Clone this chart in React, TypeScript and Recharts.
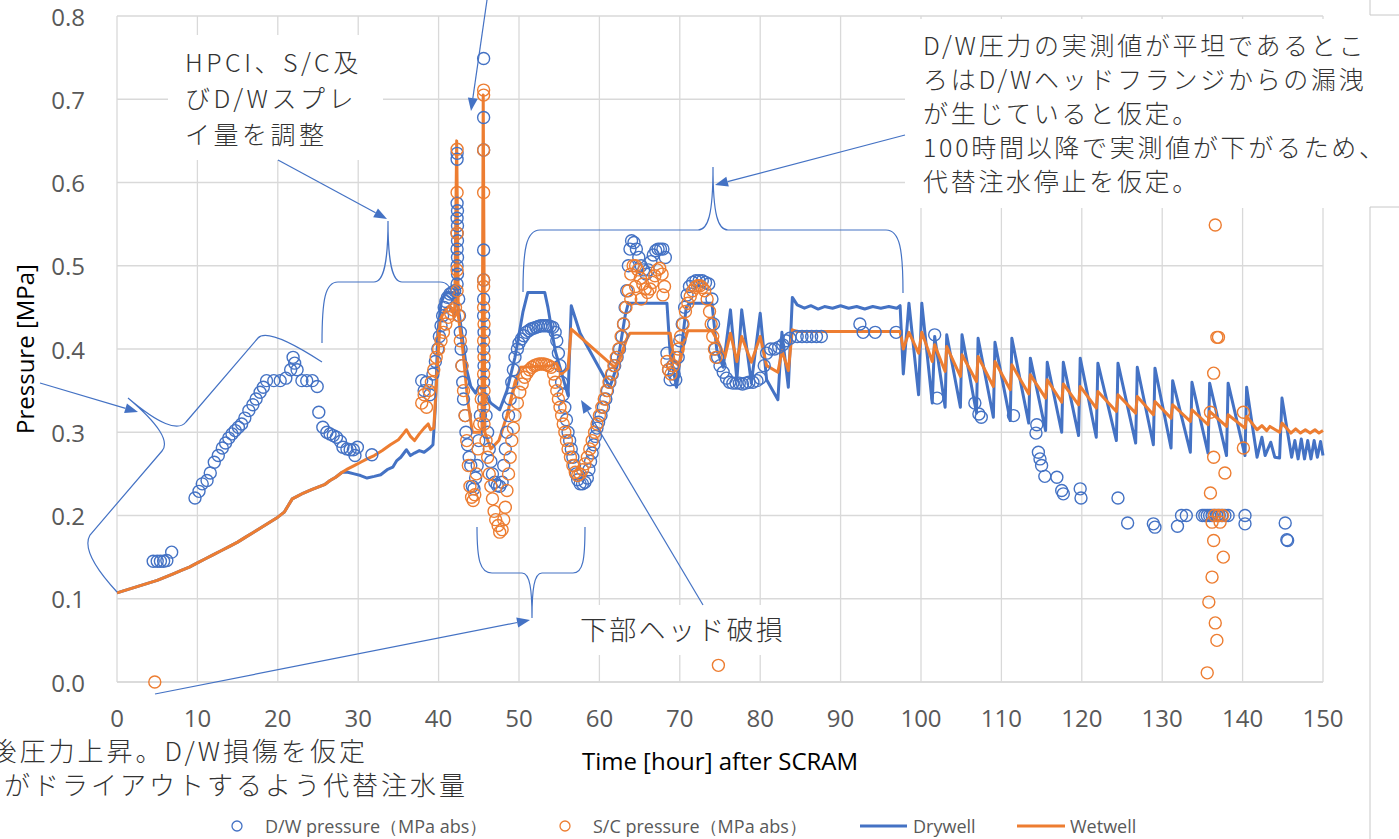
import { ComposedChart, Line, Scatter, XAxis, YAxis, CartesianGrid } from "recharts";

const BLUE = "#4472C4";
const ORANGE = "#ED7D31";
const GRID = "#d9d9d9";
const LABEL = "#595959";
const JP_FONT = '"Noto Sans CJK JP", "Noto Sans", sans-serif';
const LATIN_FONT = '"Open Sans", "Noto Sans", sans-serif';

const hourTicks = [0, 10, 20, 30, 40, 50, 60, 70, 80, 90, 100, 110, 120, 130, 140, 150];
const pressureTicks = [0, 0.1, 0.2, 0.3, 0.4, 0.5, 0.6, 0.7, 0.8];

type Pt = [number, number];

// measured D/W pressure (MPa abs)
const dwMeasured: Pt[] = [
  [4.5, 0.145], [5.0, 0.145], [5.4, 0.145], [5.8, 0.145], [6.2, 0.146], [6.8, 0.156],
  [9.7, 0.221], [10.2, 0.229], [10.6, 0.238], [11.2, 0.242], [11.6, 0.251], [12.1, 0.264],
  [12.6, 0.272], [13.1, 0.281], [13.5, 0.287], [13.9, 0.293], [14.3, 0.298], [14.7, 0.302],
  [15.1, 0.306], [15.5, 0.31], [15.9, 0.317], [16.4, 0.326], [16.9, 0.333], [17.3, 0.34],
  [17.8, 0.348], [18.2, 0.354], [18.6, 0.362], [19.5, 0.362], [20.3, 0.362], [21.0, 0.365],
  [21.6, 0.375], [21.9, 0.39], [22.1, 0.383], [22.4, 0.375], [23.0, 0.362], [23.6, 0.362],
  [24.3, 0.362], [24.9, 0.355], [25.1, 0.324], [25.6, 0.306], [26.1, 0.3], [26.5, 0.298],
  [26.9, 0.296], [27.3, 0.294], [27.8, 0.289], [28.1, 0.282], [28.6, 0.28], [29.0, 0.279],
  [29.4, 0.279], [29.6, 0.272], [29.9, 0.282], [31.7, 0.273],
  [37.9, 0.362], [38.2, 0.35], [38.5, 0.36], [38.9, 0.345], [39.3, 0.37], [39.6, 0.385],
  [39.9, 0.4], [40.1, 0.415], [40.3, 0.428], [40.5, 0.44], [40.7, 0.45], [40.9, 0.457],
  [41.1, 0.462], [41.4, 0.466], [41.7, 0.468], [42.0, 0.47],
  [42.3, 0.635], [42.3, 0.628], [42.3, 0.575], [42.35, 0.566], [42.3, 0.557], [42.35, 0.548],
  [42.3, 0.539], [42.35, 0.53], [42.3, 0.52], [42.35, 0.51], [42.3, 0.5], [42.35, 0.49], [42.3, 0.478],
  [42.5, 0.46], [42.6, 0.44], [42.7, 0.42], [42.8, 0.4], [42.9, 0.38], [43.0, 0.36], [43.1, 0.34],
  [43.3, 0.32], [43.4, 0.3], [43.6, 0.285], [43.8, 0.27], [44.0, 0.26], [44.2, 0.235],
  [44.4, 0.232], [44.6, 0.245], [44.8, 0.26], [45.0, 0.29], [45.2, 0.32],
  [45.6, 0.749], [45.6, 0.678], [45.6, 0.639], [45.6, 0.519], [45.6, 0.483], [45.6, 0.46],
  [45.6, 0.44], [45.65, 0.42], [45.6, 0.4], [45.65, 0.38], [45.6, 0.36], [45.65, 0.34],
  [45.9, 0.32], [46.1, 0.3], [46.3, 0.28], [46.5, 0.265], [46.7, 0.25], [47.0, 0.24],
  [47.3, 0.236], [47.6, 0.235], [47.9, 0.24], [48.1, 0.26], [48.3, 0.28], [48.5, 0.3],
  [48.7, 0.32], [48.9, 0.34], [49.1, 0.36], [49.3, 0.375], [49.5, 0.39], [49.8, 0.4],
  [50.0, 0.407], [50.3, 0.412], [50.6, 0.416], [50.9, 0.42], [51.2, 0.422], [51.5, 0.424],
  [51.8, 0.425], [52.1, 0.426], [52.4, 0.427], [52.7, 0.428], [53.0, 0.428], [53.3, 0.428],
  [53.6, 0.428], [53.9, 0.427], [54.2, 0.426], [54.5, 0.42], [54.7, 0.41], [54.9, 0.395],
  [55.1, 0.38], [55.3, 0.36], [55.5, 0.345], [55.7, 0.33], [55.9, 0.315], [56.1, 0.3],
  [56.3, 0.29], [56.5, 0.28], [56.7, 0.27], [56.9, 0.26], [57.1, 0.25], [57.3, 0.243],
  [57.6, 0.238], [57.9, 0.238], [58.2, 0.24], [58.5, 0.245], [58.7, 0.255], [58.9, 0.265],
  [59.1, 0.275], [59.3, 0.285], [59.5, 0.295], [59.7, 0.305], [59.9, 0.312], [60.2, 0.32],
  [60.5, 0.33], [60.8, 0.34], [61.0, 0.35], [61.3, 0.36], [61.6, 0.37], [61.9, 0.38],
  [62.2, 0.39], [62.5, 0.4], [62.8, 0.415], [63.0, 0.43], [63.2, 0.45], [63.4, 0.47],
  [63.6, 0.5], [63.8, 0.52], [64.0, 0.53], [64.3, 0.528], [64.6, 0.52], [64.9, 0.51],
  [65.2, 0.5], [65.5, 0.495], [65.8, 0.49], [66.1, 0.495], [66.4, 0.505], [66.7, 0.513],
  [67.0, 0.518], [67.3, 0.52], [67.6, 0.52], [67.9, 0.52], [68.2, 0.51],
  [68.4, 0.395], [68.6, 0.375], [68.8, 0.363], [69.1, 0.38], [69.3, 0.37], [69.5, 0.363],
  [69.8, 0.39], [70.0, 0.41], [70.3, 0.43], [70.6, 0.45], [70.9, 0.465], [71.2, 0.475],
  [71.6, 0.48], [72.0, 0.482], [72.4, 0.482], [72.8, 0.482], [73.2, 0.48], [73.6, 0.478],
  [74.0, 0.46], [74.2, 0.43], [74.4, 0.4], [74.7, 0.39], [75.0, 0.38], [75.4, 0.372],
  [75.8, 0.365], [76.2, 0.36], [76.6, 0.359], [77.0, 0.359], [77.4, 0.359], [77.8, 0.358],
  [78.2, 0.359], [78.6, 0.36], [79.1, 0.36], [79.6, 0.362], [80.0, 0.365], [80.5, 0.38],
  [80.8, 0.395], [81.3, 0.4], [81.8, 0.4], [82.3, 0.402], [82.8, 0.405], [83.2, 0.41],
  [83.7, 0.413], [84.6, 0.415], [85.2, 0.415], [85.8, 0.415], [86.4, 0.415], [87.0, 0.415],
  [87.6, 0.415], [92.4, 0.43], [92.8, 0.42], [94.3, 0.42], [96.9, 0.42],
  [101.7, 0.417], [102.0, 0.341], [106.7, 0.335], [107.2, 0.322], [107.5, 0.318], [111.5, 0.32],
  [114.4, 0.309], [114.3, 0.299], [114.6, 0.276], [114.8, 0.268], [115.0, 0.26], [115.4, 0.247],
  [116.9, 0.246], [117.5, 0.23], [117.7, 0.226], [119.8, 0.232], [119.9, 0.221], [124.5, 0.221],
  [125.7, 0.191], [128.9, 0.19], [129.1, 0.186], [131.9, 0.187], [132.4, 0.2], [133.0, 0.2],
  [135.0, 0.2], [135.3, 0.2], [135.6, 0.2], [135.9, 0.2], [136.2, 0.2], [136.5, 0.2],
  [136.8, 0.2], [137.1, 0.2], [137.4, 0.2], [137.8, 0.2], [138.2, 0.2], [140.3, 0.2],
  [140.3, 0.19], [145.3, 0.191], [145.5, 0.171], [145.6, 0.17],
];

// measured S/C pressure (MPa abs)
const scMeasured: Pt[] = [
  [4.7, 0.0],
  [37.9, 0.335], [38.2, 0.345], [38.5, 0.33], [38.8, 0.35], [39.1, 0.36], [39.4, 0.375],
  [39.7, 0.39], [40.0, 0.4], [40.3, 0.41], [40.6, 0.42], [40.9, 0.43], [41.2, 0.438],
  [41.5, 0.443], [41.8, 0.447], [42.1, 0.45],
  [42.3, 0.64], [42.3, 0.588], [42.3, 0.539], [42.3, 0.495], [42.3, 0.47],
  [42.5, 0.44], [42.7, 0.41], [42.9, 0.38], [43.1, 0.35], [43.3, 0.32], [43.5, 0.29],
  [43.7, 0.26], [43.9, 0.235], [44.1, 0.222], [44.3, 0.218], [44.5, 0.225], [44.7, 0.25],
  [44.9, 0.28], [45.1, 0.31], [45.3, 0.34],
  [45.6, 0.711], [45.6, 0.705], [45.6, 0.639], [45.6, 0.588], [45.6, 0.483], [45.6, 0.475],
  [45.6, 0.45], [45.65, 0.43], [45.6, 0.41], [45.65, 0.39], [45.6, 0.37], [45.65, 0.35],
  [45.6, 0.33], [45.65, 0.31],
  [45.9, 0.29], [46.1, 0.27], [46.3, 0.25], [46.5, 0.235], [46.7, 0.22], [46.9, 0.205],
  [47.1, 0.195], [47.4, 0.188], [47.6, 0.18], [47.9, 0.183], [48.1, 0.195], [48.3, 0.21],
  [48.5, 0.23], [48.7, 0.25], [48.9, 0.27], [49.1, 0.29], [49.3, 0.305], [49.5, 0.32],
  [49.8, 0.335], [50.1, 0.348], [50.4, 0.358], [50.7, 0.366], [51.0, 0.371], [51.3, 0.375],
  [51.6, 0.378], [51.9, 0.38], [52.2, 0.381], [52.5, 0.382], [52.8, 0.382], [53.1, 0.382],
  [53.4, 0.381], [53.7, 0.38], [54.0, 0.378], [54.3, 0.37], [54.5, 0.36], [54.7, 0.35],
  [54.9, 0.34], [55.1, 0.33], [55.3, 0.32], [55.5, 0.31], [55.7, 0.3], [55.9, 0.29],
  [56.1, 0.28], [56.4, 0.27], [56.7, 0.26], [57.0, 0.252], [57.3, 0.248], [57.6, 0.25],
  [57.9, 0.255], [58.2, 0.262], [58.5, 0.27], [58.8, 0.28], [59.1, 0.29], [59.4, 0.3],
  [59.7, 0.31], [60.0, 0.32], [60.3, 0.33], [60.6, 0.34], [60.9, 0.35], [61.2, 0.36],
  [61.5, 0.37], [61.8, 0.38], [62.1, 0.39], [62.4, 0.4], [62.7, 0.415], [63.0, 0.43],
  [63.3, 0.45], [63.6, 0.47], [63.9, 0.49], [64.2, 0.5], [64.5, 0.5], [64.8, 0.495],
  [65.1, 0.485], [65.4, 0.478], [65.7, 0.472], [66.0, 0.468], [66.3, 0.472], [66.6, 0.48],
  [66.9, 0.488], [67.2, 0.495], [67.5, 0.497], [67.8, 0.49], [68.1, 0.475],
  [63.9, 0.46], [64.5, 0.475], [65.2, 0.46], [67.9, 0.465],
  [68.4, 0.385], [68.6, 0.375], [68.9, 0.37], [69.2, 0.38], [69.5, 0.39], [69.8, 0.4],
  [70.1, 0.415], [70.4, 0.43], [70.7, 0.445], [71.0, 0.455], [71.3, 0.463], [71.6, 0.47],
  [71.9, 0.474], [72.2, 0.476], [72.5, 0.476], [72.8, 0.474], [73.1, 0.47], [73.4, 0.46],
  [73.7, 0.445], [73.9, 0.43], [74.1, 0.415], [74.3, 0.4], [74.5, 0.39],
  [74.8, 0.02],
  [135.6, 0.011], [135.8, 0.096], [136.0, 0.227], [136.0, 0.324], [136.2, 0.126], [136.2, 0.192],
  [136.4, 0.17], [136.4, 0.27], [136.4, 0.371], [136.6, 0.071], [136.6, 0.549], [136.8, 0.05],
  [136.8, 0.414], [137.0, 0.414], [137.2, 0.192], [137.6, 0.15], [137.8, 0.251],
  [136.5, 0.2], [137.0, 0.2], [137.5, 0.2], [140.1, 0.281], [140.1, 0.324],
];

// calculated pressure, identical for both volumes until ~28 h
const calcEarly: Pt[] = [
  [0, 0.107], [1, 0.11], [2, 0.113], [3, 0.116], [4, 0.119], [5, 0.122], [6, 0.126],
  [7, 0.13], [8, 0.134], [9, 0.138], [10, 0.143], [11, 0.148], [12, 0.153], [13, 0.158],
  [14, 0.163], [15, 0.168], [16, 0.174], [17, 0.18], [18, 0.186], [19, 0.192], [20, 0.198],
  [20.8, 0.204], [21.3, 0.212], [21.8, 0.22], [22.4, 0.223], [23.2, 0.227], [24.2, 0.231],
  [25.0, 0.234], [25.8, 0.237], [26.5, 0.242], [27.2, 0.246], [28.0, 0.252],
];

const drywellCalc: Pt[] = [
  [28.7, 0.252], [29.5, 0.25], [30.3, 0.248], [31.1, 0.245], [32.0, 0.247], [32.8, 0.249],
  [33.6, 0.255], [34.3, 0.258], [34.8, 0.266], [35.3, 0.27], [36.0, 0.279], [36.5, 0.272],
  [37.0, 0.275], [37.6, 0.278], [38.2, 0.276], [38.9, 0.281], [39.3, 0.285], [39.6, 0.33],
  [39.9, 0.42], [40.3, 0.455], [40.8, 0.467], [41.8, 0.468], [42.2, 0.46], [42.6, 0.44],
  [43.0, 0.41], [43.5, 0.375], [44.0, 0.355], [44.6, 0.347], [45.0, 0.355], [45.4, 0.352],
  [45.8, 0.345], [46.5, 0.335], [47.6, 0.327], [48.5, 0.35], [49.5, 0.39], [50.5, 0.445],
  [51.1, 0.468], [53.2, 0.468], [53.6, 0.45], [54.5, 0.398], [56.1, 0.344], [56.5, 0.452],
  [57.6, 0.419], [61.3, 0.354], [62.2, 0.38], [63.2, 0.44], [63.6, 0.455], [68.4, 0.455],
  [68.8, 0.395], [69.6, 0.354], [70.2, 0.4], [70.8, 0.45], [71.2, 0.455], [74.0, 0.455],
  [74.6, 0.399], [75.4, 0.378], [76.3, 0.447], [77.1, 0.363], [77.7, 0.447], [78.9, 0.359],
  [80.0, 0.443], [80.8, 0.363], [82.2, 0.339], [82.7, 0.42], [83.5, 0.354], [84.0, 0.462],
  [84.6, 0.453], [85.5, 0.449], [86.3, 0.452], [87.2, 0.448], [88.0, 0.451], [89.0, 0.449],
  [90.0, 0.452], [91.0, 0.449], [92.0, 0.451], [93.0, 0.448], [94.0, 0.451], [95.0, 0.449],
  [96.0, 0.451], [97.0, 0.449], [97.4, 0.452], [97.8, 0.37], [98.5, 0.455], [99.7, 0.345],
  [100.1, 0.455], [101.4, 0.335], [101.7, 0.415], [103.0, 0.33], [103.2, 0.417], [104.9, 0.33],
  [105.1, 0.417], [106.9, 0.323], [107.1, 0.413], [109.0, 0.318], [109.2, 0.408], [111.1, 0.314],
  [111.3, 0.413], [113.4, 0.311], [113.6, 0.389], [115.5, 0.302], [115.7, 0.384], [117.5, 0.3],
  [117.7, 0.384], [119.6, 0.296], [119.8, 0.389], [121.8, 0.294], [122.0, 0.383], [124.3, 0.29],
  [124.5, 0.383], [126.7, 0.287], [126.9, 0.378], [128.9, 0.285], [129.1, 0.377], [131.1, 0.281],
  [131.3, 0.362], [133.5, 0.276], [133.7, 0.36], [135.7, 0.275], [135.9, 0.359], [138.0, 0.272],
  [138.2, 0.359], [140.3, 0.272], [140.5, 0.354], [141.8, 0.27], [142.4, 0.294], [142.8, 0.272],
  [143.5, 0.288], [144.0, 0.27], [144.6, 0.269], [144.9, 0.341], [146.1, 0.27], [146.5, 0.29],
  [146.9, 0.268], [147.3, 0.292], [147.7, 0.268], [148.1, 0.29], [148.5, 0.268], [148.9, 0.29],
  [149.3, 0.27], [149.7, 0.289], [150.0, 0.272],
];

const wetwellCalc: Pt[] = [
  [28.7, 0.256], [29.5, 0.26], [30.3, 0.264], [31.1, 0.268], [32.0, 0.272], [33.0, 0.278],
  [34.0, 0.285], [35.0, 0.291], [35.6, 0.298], [36.0, 0.303], [36.5, 0.295], [37.0, 0.29],
  [37.6, 0.298], [38.2, 0.305], [38.7, 0.31], [39.0, 0.303], [39.4, 0.305], [39.8, 0.37],
  [40.2, 0.435], [40.8, 0.448], [41.4, 0.452], [42.0, 0.44], [42.25, 0.65], [42.45, 0.44],
  [43.0, 0.4], [43.6, 0.34], [44.2, 0.3], [44.8, 0.3], [45.4, 0.3], [45.55, 0.705],
  [45.75, 0.3], [46.5, 0.28], [47.5, 0.29], [48.5, 0.32], [49.5, 0.36], [50.2, 0.378],
  [54.0, 0.38], [54.6, 0.384], [55.3, 0.37], [56.1, 0.377], [56.5, 0.424], [61.9, 0.378],
  [62.6, 0.39], [63.4, 0.412], [63.8, 0.419], [68.8, 0.419], [69.3, 0.385], [69.9, 0.38],
  [70.6, 0.41], [71.0, 0.422], [74.0, 0.422], [74.8, 0.408], [75.6, 0.39], [76.3, 0.419],
  [77.1, 0.385], [77.7, 0.415], [78.9, 0.384], [80.0, 0.415], [80.8, 0.38], [82.2, 0.372],
  [82.7, 0.398], [83.5, 0.374], [84.0, 0.423], [84.6, 0.421], [97.4, 0.421], [97.8, 0.4],
  [98.5, 0.42], [99.7, 0.395], [100.1, 0.42], [101.4, 0.385], [101.7, 0.405], [103.0, 0.373],
  [103.2, 0.403], [104.9, 0.367], [105.1, 0.393], [106.9, 0.361], [107.1, 0.391], [109.0, 0.355],
  [109.2, 0.385], [111.1, 0.351], [111.3, 0.381], [113.4, 0.346], [113.6, 0.369], [115.5, 0.341],
  [115.7, 0.363], [117.5, 0.336], [117.7, 0.358], [119.6, 0.333], [119.8, 0.355], [121.8, 0.329],
  [122.0, 0.349], [124.3, 0.325], [124.5, 0.345], [126.7, 0.323], [126.9, 0.343], [128.9, 0.321],
  [129.1, 0.337], [131.1, 0.317], [131.3, 0.333], [133.5, 0.313], [133.7, 0.327], [135.7, 0.309],
  [135.9, 0.325], [138.0, 0.307], [138.2, 0.321], [140.3, 0.305], [140.5, 0.319], [141.8, 0.303],
  [142.4, 0.308], [143.0, 0.302], [143.4, 0.307], [144.6, 0.3], [144.9, 0.311], [146.0, 0.299],
  [146.6, 0.304], [147.2, 0.299], [147.8, 0.303], [148.4, 0.299], [149.0, 0.303], [149.5, 0.299],
  [150.0, 0.302],
];

const toRows = (pts: Pt[]) => pts.map(([t, p]) => ({ t, p }));

const dwRows = toRows(dwMeasured);
const scRows = toRows(scMeasured);
const drywellRows = toRows([...calcEarly, ...drywellCalc]);
const wetwellRows = toRows([...calcEarly, ...wetwellCalc]);

const ring = (color: string) => (props: any) => (
  <circle cx={props.cx} cy={props.cy} r={6} fill="none" stroke={color} strokeWidth={1.4} />
);

const XTick = (props: any) => (
  <text x={props.x} y={717} textAnchor="middle" dominantBaseline="central" fontSize={24} fill={LABEL} fontFamily={LATIN_FONT}>
    {props.payload.value}
  </text>
);

const YTick = (props: any) => (
  <text x={85} y={props.y} textAnchor="end" dominantBaseline="central" fontSize={24} fill={LABEL} fontFamily={LATIN_FONT}>
    {Number(props.payload.value).toFixed(1)}
  </text>
);

// straight callout arrow with a filled head at the tip
function Arrow({ x1, y1, x2, y2 }: { x1: number; y1: number; x2: number; y2: number }) {
  const len = Math.hypot(x2 - x1, y2 - y1);
  const dx = (x2 - x1) / len;
  const dy = (y2 - y1) / len;
  const bx = x2 - dx * 13;
  const by = y2 - dy * 13;
  const px = -dy * 5;
  const py = dx * 5;
  return (
    <g>
      <line x1={x1} y1={y1} x2={bx} y2={by} stroke={BLUE} strokeWidth={1.2} />
      <polygon points={`${x2},${y2} ${bx + px},${by + py} ${bx - px},${by - py}`} fill={BLUE} />
    </g>
  );
}

const braces = [
  "M 117 592 Q 80 552 90 535 L 162 451 Q 174 437 128 398 Q 174 437 186 422 L 258 338 Q 268 327 322 362",
  "M 322 343 C 322 300 325 282 338 282 L 374 282 C 384 282 388 262 388 221 C 388 262 392 282 402 282 L 440 282 C 448 282 451 288 452 296",
  "M 523 292 C 523 250 526 230 540 230 L 698 230 C 708 230 713 215 713 167 C 713 215 718 230 728 230 L 886 230 C 900 230 903 250 903 293",
  "M 477 527 C 477 560 480 573 492 573 L 522 573 C 530 573 532 590 532 618 C 532 590 534 573 542 573 L 573 573 C 583 573 585 560 585 527",
];

const jpText = (size: number, spacing: number, lh: number) => ({
  position: "absolute" as const,
  fontFamily: JP_FONT,
  fontSize: size,
  fontWeight: 300,
  letterSpacing: spacing,
  lineHeight: `${lh}px`,
  color: "#333",
  whiteSpace: "nowrap" as const,
});

export default function App() {
  return (
    <div style={{ position: "absolute", left: 0, top: 0, width: 1399, height: 839, background: "#fff", overflow: "hidden" }}>
      <ComposedChart width={1399} height={839} margin={{ top: 16, right: 76, bottom: 0, left: 0 }}>
        <CartesianGrid stroke={GRID} strokeWidth={1.3} />
        <XAxis
          type="number"
          dataKey="t"
          domain={[0, 150]}
          ticks={hourTicks}
          interval={0}
          height={157}
          axisLine={{ stroke: GRID, strokeWidth: 1.3 }}
          tickLine={false}
          tick={XTick}
        />
        <YAxis
          type="number"
          dataKey="p"
          domain={[0, 0.8]}
          ticks={pressureTicks}
          interval={0}
          width={117}
          axisLine={false}
          tickLine={false}
          tick={YTick}
        />
        <Scatter data={dwRows} dataKey="p" shape={ring(BLUE)} isAnimationActive={false} />
        <Scatter data={scRows} dataKey="p" shape={ring(ORANGE)} isAnimationActive={false} />
        <Line data={drywellRows} dataKey="p" type="linear" stroke={BLUE} strokeWidth={3} strokeLinejoin="round" dot={false} activeDot={false} isAnimationActive={false} />
        <Line data={wetwellRows} dataKey="p" type="linear" stroke={ORANGE} strokeWidth={3} strokeLinejoin="round" dot={false} activeDot={false} isAnimationActive={false} />
      </ComposedChart>

      {/* white callout boxes that sit on top of the grid */}
      <div style={{ position: "absolute", left: 168, top: 35, width: 215, height: 125, background: "#fff" }} />
      <div style={{ position: "absolute", left: 905, top: 19, width: 494, height: 189, background: "#fff" }} />
      <div style={{ position: "absolute", left: 574, top: 605, width: 216, height: 50, background: "#fff" }} />

      <div style={{ ...jpText(25, 3.5, 36), left: 185, top: 43 }}>
        HPCI、S/C及<br />びD/Wスプレ<br />イ量を調整
      </div>
      <div style={{ ...jpText(25, 2.7, 34), left: 923, top: 27 }}>
        D/W圧力の実測値が平坦であるとこ<br />
        ろはD/Wヘッドフランジからの漏洩<br />
        が生じていると仮定。<br />
        100時間以降で実測値が下がるため、<br />
        代替注水停止を仮定。
      </div>
      <div style={{ ...jpText(27, 2.3, 36), left: 580, top: 611 }}>下部ヘッド破損</div>
      <div style={{ ...jpText(26, 3, 34), right: 1399 - 368, top: 733, textAlign: "right" }}>後圧力上昇。D/W損傷を仮定</div>
      <div style={{ ...jpText(26, 3, 34), right: 1399 - 468, top: 767, textAlign: "right" }}>がドライアウトするよう代替注水量</div>

      <svg width={1399} height={839} style={{ position: "absolute", left: 0, top: 0, pointerEvents: "none" }}>
        {/* neighbouring frame at the right edge */}
        <g stroke="#c8c8c8" strokeWidth={1}>
          <line x1={1370} y1={0} x2={1370} y2={15} />
          <line x1={1370} y1={15} x2={1399} y2={15} />
          <line x1={1370} y1={207} x2={1399} y2={207} />
          <line x1={1370} y1={207} x2={1370} y2={839} />
        </g>

        {braces.map((d, i) => (
          <path key={i} d={d} fill="none" stroke={BLUE} strokeWidth={1.2} />
        ))}
        <Arrow x1={487} y1={0} x2={471} y2={111} />
        <Arrow x1={278} y1={160} x2={387} y2={219} />
        <Arrow x1={905} y1={135} x2={715} y2={185} />
        <Arrow x1={40} y1={383} x2={138} y2={412} />
        <Arrow x1={155} y1={694} x2={530} y2={620} />
        <Arrow x1={703} y1={605} x2={581} y2={400} />

        <text x={720} y={760} textAnchor="middle" dominantBaseline="central" fontSize={24} fill="#000" fontFamily={LATIN_FONT}>
          Time [hour] after SCRAM
        </text>
        <text
          x={24}
          y={349}
          textAnchor="middle"
          dominantBaseline="central"
          fontSize={24}
          fill="#000"
          fontFamily={LATIN_FONT}
          transform="rotate(-90 24 349)"
        >
          Pressure [MPa]
        </text>

        {/* legend */}
        <g fontFamily={LATIN_FONT} fontSize={18} fill={LABEL}>
          <circle cx={237} cy={826} r={5} fill="none" stroke={BLUE} strokeWidth={1.3} />
          <text x={265} y={826} dominantBaseline="central">D/W pressure（MPa abs）</text>
          <circle cx={565} cy={826} r={5} fill="none" stroke={ORANGE} strokeWidth={1.3} />
          <text x={593} y={826} dominantBaseline="central">S/C pressure（MPa abs）</text>
          <line x1={860} y1={826} x2={907} y2={826} stroke={BLUE} strokeWidth={3} />
          <text x={913} y={826} dominantBaseline="central">Drywell</text>
          <line x1={1017} y1={826} x2={1065} y2={826} stroke={ORANGE} strokeWidth={3} />
          <text x={1070} y={826} dominantBaseline="central">Wetwell</text>
        </g>
      </svg>
    </div>
  );
}
